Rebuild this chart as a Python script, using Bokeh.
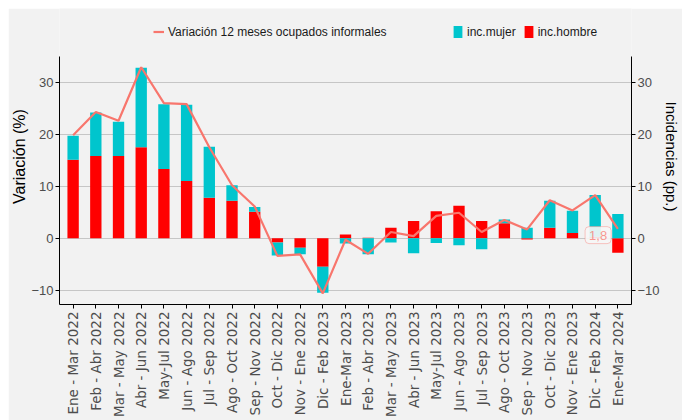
import numpy as np
from bokeh.plotting import figure
from bokeh.models import Range1d, FixedTicker, LinearAxis, Legend, LegendItem, Label
from bokeh.embed import file_html
from bokeh.resources import INLINE

cats = ["Ene - Mar 2022", "Feb - Abr 2022", "Mar - May 2022", "Abr - Jun 2022", "May-Jul 2022",
        "Jun - Ago 2022", "Jul - Sep 2022", "Ago - Oct 2022", "Sep - Nov 2022", "Oct - Dic 2022",
        "Nov - Ene 2022", "Dic - Feb 2023", "Ene-Mar 2023", "Feb - Abr 2023", "Mar - May 2023",
        "Abr - Jun 2023", "May-Jul 2023", "Jun - Ago 2023", "Jul - Sep 2023", "Ago - Oct 2023",
        "Sep - Nov 2023", "Oct - Dic 2023", "Nov - Ene 2023", "Dic - Feb 2024", "Ene-Mar 2024"]
hombre = [15.1, 15.8, 15.8, 17.5, 13.3, 11.0, 7.8, 7.2, 5.1, -0.8, -1.85, -5.5, 0.7, 0.1, 2.0,
          3.3, 5.2, 6.25, 3.3, 2.9, -0.25, 2.0, 1.0, 0.3, -2.8]
mujer = [4.6, 8.4, 6.6, 15.3, 12.5, 14.7, 9.8, 3.0, 0.9, -2.5, -1.25, -5.0, -1.0, -3.1, -0.8,
         -2.9, -0.9, -1.35, -2.1, 0.7, 2.0, 5.2, 4.3, 8.0, 4.65]
variacion = [19.8, 24.3, 22.6, 32.9, 26.0, 25.8, 17.5, 10.2, 6.1, -3.4, -3.1, -10.6, -0.3, -3.0,
             1.2, 0.4, 4.3, 4.9, 1.2, 3.5, 1.7, 7.3, 5.35, 8.3, 1.8]
y_ticks = [-10, 0, 10, 20, 30]

SANS = "Liberation Sans"
WIDE = "DejaVu Sans"
BG = "#f2f2f2"
RED = "#FF0000"
CYAN = "#00C5CD"
SALMON = "#F8766D"
Y_LO, Y_HI = -12.75, 34.9      # visible data area (axis extent)
Y_TOP = 44.2                    # extra room above data area for legend

x = np.arange(1, len(cats) + 1)
h = np.array(hombre)
m = np.array(mujer)
same = np.sign(h) == np.sign(m)
m_bottom = np.where(same, h, 0.0)
m_top = m_bottom + m

p = figure(width=674, height=412, x_range=Range1d(0.4, len(cats) + 0.6),
           y_range=Range1d(Y_LO, Y_TOP), output_backend="svg", toolbar_location=None,
           min_border_left=30, min_border_right=20, min_border_top=0, min_border_bottom=116)
p.margin = (8, 0, 0, 8)
p.background_fill_color = BG
p.border_fill_color = BG
p.outline_line_color = None

r_h = p.vbar(x=x, bottom=0, top=h, width=0.5, fill_color=RED, line_color=None)
r_m = p.vbar(x=x, bottom=m_bottom, top=m_top, width=0.5, fill_color=CYAN, line_color=None)
r_l = p.line(x, variacion, line_color=SALMON, line_width=2.2)

def style_axis(ax):
    ax.axis_line_color = "black"
    ax.axis_line_width = 1
    ax.major_tick_line_color = "black"
    ax.major_tick_out = 4
    ax.major_tick_in = 0
    ax.minor_tick_line_color = None
    ax.major_label_text_font = SANS
    ax.major_label_text_font_size = "13px"
    ax.major_label_text_color = "#4d4d4d"
    ax.major_label_standoff = 2
    ax.axis_label_text_font = SANS
    ax.axis_label_text_font_style = "normal"
    ax.axis_label_text_color = "black"

xa = p.xaxis[0]
xa.ticker = FixedTicker(ticks=list(x))
xa.major_label_overrides = {int(i): c for i, c in zip(x, cats)}
xa.major_label_orientation = np.pi / 2
style_axis(xa)
xa.major_label_text_font = WIDE
xa.major_label_text_font_size = "13.5px"
xa.major_label_standoff = 3

ya = p.yaxis[0]
ya.ticker = FixedTicker(ticks=y_ticks)
ya.bounds = (Y_LO, Y_HI)
ya.axis_label = "Variación (%)"
style_axis(ya)
ya.axis_label_text_font_size = "16px"
ya.axis_label_standoff = 0

ya2 = LinearAxis(ticker=FixedTicker(ticks=y_ticks), axis_label="Incidencias (pp.)",
                 bounds=(Y_LO, Y_HI))
style_axis(ya2)
ya2.axis_label_text_font_size = "15px"
ya2.axis_label_standoff = 0
p.add_layout(ya2, "right")

p.xgrid.visible = False
p.ygrid.ticker = FixedTicker(ticks=y_ticks)
p.ygrid.grid_line_color = "#c6c6c6"
p.ygrid.grid_line_width = 1.2

def style_legend(lg):
    lg.background_fill_alpha = 0
    lg.border_line_color = None
    lg.label_text_font = SANS
    lg.label_text_font_size = "12px"
    lg.label_text_color = "#1a1a1a"
    lg.glyph_width = 11
    lg.glyph_height = 15
    lg.label_standoff = 4
    lg.spacing = 7
    lg.padding = 2
    lg.margin = 0

leg1 = Legend(items=[LegendItem(label="Variación 12 meses ocupados informales", renderers=[r_l])],
              location=(94, 265), orientation="horizontal")
leg2 = Legend(items=[LegendItem(label="inc.mujer", renderers=[r_m]),
                     LegendItem(label="inc.hombre", renderers=[r_h])],
              location=(393, 265), orientation="horizontal")
style_legend(leg1)
style_legend(leg2)
p.add_layout(leg1)
p.add_layout(leg2)

last = variacion[-1]
lab = Label(x=len(cats) - 0.87, y=last - 1.2, text=f"{last:.1f}".replace(".", ","),
            text_font=SANS, text_font_size="13px", text_color=SALMON, text_alpha=0.75,
            text_align="center", text_baseline="middle",
            background_fill_color="#f6f6f6", background_fill_alpha=0.9,
            border_line_color=SALMON, border_line_alpha=0.4, border_radius=4, padding=4)
p.add_layout(lab)

open("out.html", "w").write(file_html(p, INLINE))
